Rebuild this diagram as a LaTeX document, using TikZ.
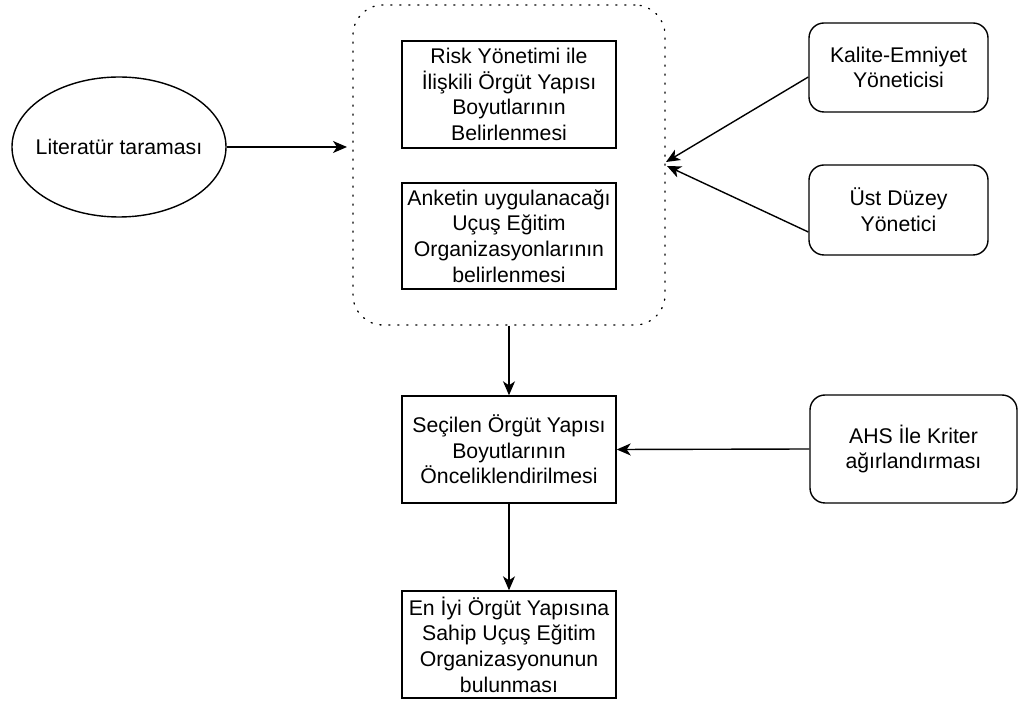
\documentclass[tikz,border=0pt]{standalone}
\usepackage{fontspec}
\setmainfont{Liberation Sans}
\usetikzlibrary{arrows.meta}

\begin{document}
\begin{tikzpicture}[x=1pt,y=1pt,
  every node/.style={font=\fontsize{21.25}{25.7}\selectfont, align=center, inner sep=0pt, line width=1.4pt},
  stepbox/.style={draw, rectangle, minimum width=214pt, minimum height=107pt},
  actor/.style={draw, rectangle, rounded corners=15pt},
  group/.style={draw, rectangle, rounded corners=30pt, dash pattern=on 1.2pt off 7.8pt, line cap=round, line width=1.3pt},
  link/.style={line width=1.4pt, -{Stealth[length=14pt, width=12pt, inset=4pt]}}
]
\useasboundingbox (0,0) rectangle (1018,702);

% dotted container around the two first steps
\node[group, minimum width=312pt, minimum height=320pt] (grp) at (509,537) {};

\node[stepbox] (b1) at (509,607.5) {Risk Yönetimi ile\\İlişkili Örgüt Yapısı\\Boyutlarının\\Belirlenmesi};
\node[stepbox, minimum height=106pt] (b2) at (509,466) {Anketin uygulanacağı\\Uçuş Eğitim\\Organizasyonlarının\\belirlenmesi};
\node[stepbox] (b3) at (509,252.5) {Seçilen Örgüt Yapısı\\Boyutlarının\\Önceliklendirilmesi};
\node[stepbox] (b4) at (509,57.5) {En İyi Örgüt Yapısına\\Sahip Uçuş Eğitim\\Organizasyonunun\\bulunması};

% ellipse with fixed radii, its text in a node of the same extent
\node[minimum width=214pt, minimum height=140pt] (lit) at (119,555) {Literatür taraması};
\draw[line width=1.4pt] (lit.center) ellipse [x radius=107pt, y radius=70pt];

\node[actor, minimum width=179pt, minimum height=89pt] (kal) at (898.5,634.5) {Kalite-Emniyet\\Yöneticisi};
\node[actor, minimum width=179pt, minimum height=90pt] (ust) at (898.5,492) {Üst Düzey\\Yönetici};
\node[actor, minimum width=207pt, minimum height=108pt] (ahs) at (913.5,253) {AHS İle Kriter\\ağırlandırması};

% arrow end points at the container border
\coordinate (litend) at (347,555);
\coordinate (kaltip) at (666,540);
\coordinate (usttip) at (667,536);

\draw[link] (lit.east) -- (litend);
\draw[link] ([yshift=-9.5pt]kal.west) -- (kaltip);
\draw[link] ([yshift=-22pt]ust.west) -- (usttip);
\draw[link] (grp.south) -- (b3.north);
\draw[link] (ahs.west) -- (b3.east);
\draw[link] (b3.south) -- (b4.north);
\end{tikzpicture}
\end{document}
